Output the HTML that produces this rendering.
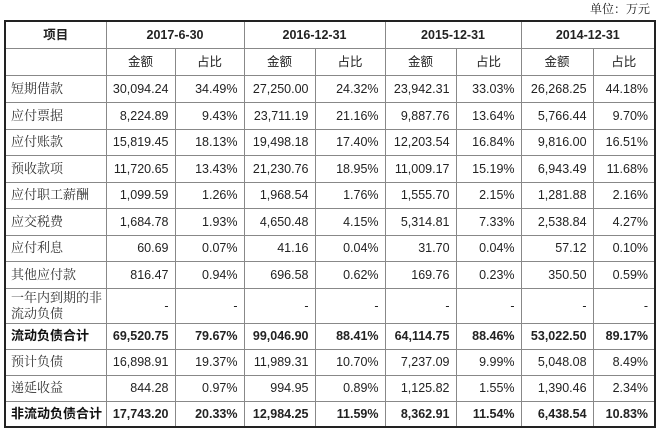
<!DOCTYPE html>
<html><head><meta charset="utf-8"><style>
body{margin:0;width:660px;height:432px;background:#fff;position:relative;overflow:hidden;font-family:"Liberation Sans","Noto Sans CJK SC",sans-serif;color:#222}
.unit{position:absolute;right:10px;top:0px;font-size:12px;font-family:"Liberation Sans","Noto Serif CJK SC",serif}
table{position:absolute;left:4px;top:20px;border-collapse:collapse;border:2px solid #222;table-layout:fixed;width:652px}
td{border:1px solid #888;font-size:12.5px;padding:0 6px;text-align:right;white-space:nowrap;line-height:14px;overflow:hidden}
td.l{text-align:left;font-family:"Liberation Sans","Noto Serif CJK SC",serif;color:#333;padding-left:5px;font-size:13px}
tr.h td{text-align:center;font-weight:bold}
tr.b td{font-weight:bold}
tr.b td.l{font-family:"Liberation Sans","Noto Sans CJK SC",sans-serif;color:#111}
</style></head><body>
<div class="unit">单位：万元</div>
<table>
<colgroup><col style="width:101px"><col style="width:69px"><col style="width:69px"><col style="width:71px"><col style="width:70px"><col style="width:71px"><col style="width:65px"><col style="width:72px"><col style="width:62px"></colgroup>
<tr class="h" style="height:27px"><td style="font-family:'Liberation Sans','Noto Sans CJK SC',sans-serif">项目</td><td colspan="2">2017-6-30</td><td colspan="2">2016-12-31</td><td colspan="2">2015-12-31</td><td colspan="2">2014-12-31</td></tr>
<tr style="height:27px;text-align:center"><td></td><td style="text-align:center">金额</td><td style="text-align:center">占比</td><td style="text-align:center">金额</td><td style="text-align:center">占比</td><td style="text-align:center">金额</td><td style="text-align:center">占比</td><td style="text-align:center">金额</td><td style="text-align:center">占比</td></tr>
<tr style="height:27px"><td class="l">短期借款</td><td>30,094.24</td><td>34.49%</td><td>27,250.00</td><td>24.32%</td><td>23,942.31</td><td>33.03%</td><td>26,268.25</td><td>44.18%</td></tr>
<tr style="height:27px"><td class="l">应付票据</td><td>8,224.89</td><td>9.43%</td><td>23,711.19</td><td>21.16%</td><td>9,887.76</td><td>13.64%</td><td>5,766.44</td><td>9.70%</td></tr>
<tr style="height:26px"><td class="l">应付账款</td><td>15,819.45</td><td>18.13%</td><td>19,498.18</td><td>17.40%</td><td>12,203.54</td><td>16.84%</td><td>9,816.00</td><td>16.51%</td></tr>
<tr style="height:27px"><td class="l">预收款项</td><td>11,720.65</td><td>13.43%</td><td>21,230.76</td><td>18.95%</td><td>11,009.17</td><td>15.19%</td><td>6,943.49</td><td>11.68%</td></tr>
<tr style="height:26px"><td class="l">应付职工薪酬</td><td>1,099.59</td><td>1.26%</td><td>1,968.54</td><td>1.76%</td><td>1,555.70</td><td>2.15%</td><td>1,281.88</td><td>2.16%</td></tr>
<tr style="height:27px"><td class="l">应交税费</td><td>1,684.78</td><td>1.93%</td><td>4,650.48</td><td>4.15%</td><td>5,314.81</td><td>7.33%</td><td>2,538.84</td><td>4.27%</td></tr>
<tr style="height:26px"><td class="l">应付利息</td><td>60.69</td><td>0.07%</td><td>41.16</td><td>0.04%</td><td>31.70</td><td>0.04%</td><td>57.12</td><td>0.10%</td></tr>
<tr style="height:27px"><td class="l">其他应付款</td><td>816.47</td><td>0.94%</td><td>696.58</td><td>0.62%</td><td>169.76</td><td>0.23%</td><td>350.50</td><td>0.59%</td></tr>
<tr style="height:35px"><td class="l" style="line-height:16px">一年内到期的非<br>流动负债</td><td>-</td><td>-</td><td>-</td><td>-</td><td>-</td><td>-</td><td>-</td><td>-</td></tr>
<tr class="b" style="height:26px"><td class="l">流动负债合计</td><td>69,520.75</td><td>79.67%</td><td>99,046.90</td><td>88.41%</td><td>64,114.75</td><td>88.46%</td><td>53,022.50</td><td>89.17%</td></tr>
<tr style="height:26px"><td class="l">预计负债</td><td>16,898.91</td><td>19.37%</td><td>11,989.31</td><td>10.70%</td><td>7,237.09</td><td>9.99%</td><td>5,048.08</td><td>8.49%</td></tr>
<tr style="height:26px"><td class="l">递延收益</td><td>844.28</td><td>0.97%</td><td>994.95</td><td>0.89%</td><td>1,125.82</td><td>1.55%</td><td>1,390.46</td><td>2.34%</td></tr>
<tr class="b" style="height:26px"><td class="l">非流动负债合计</td><td>17,743.20</td><td>20.33%</td><td>12,984.25</td><td>11.59%</td><td>8,362.91</td><td>11.54%</td><td>6,438.54</td><td>10.83%</td></tr>
</table>
</body></html>
